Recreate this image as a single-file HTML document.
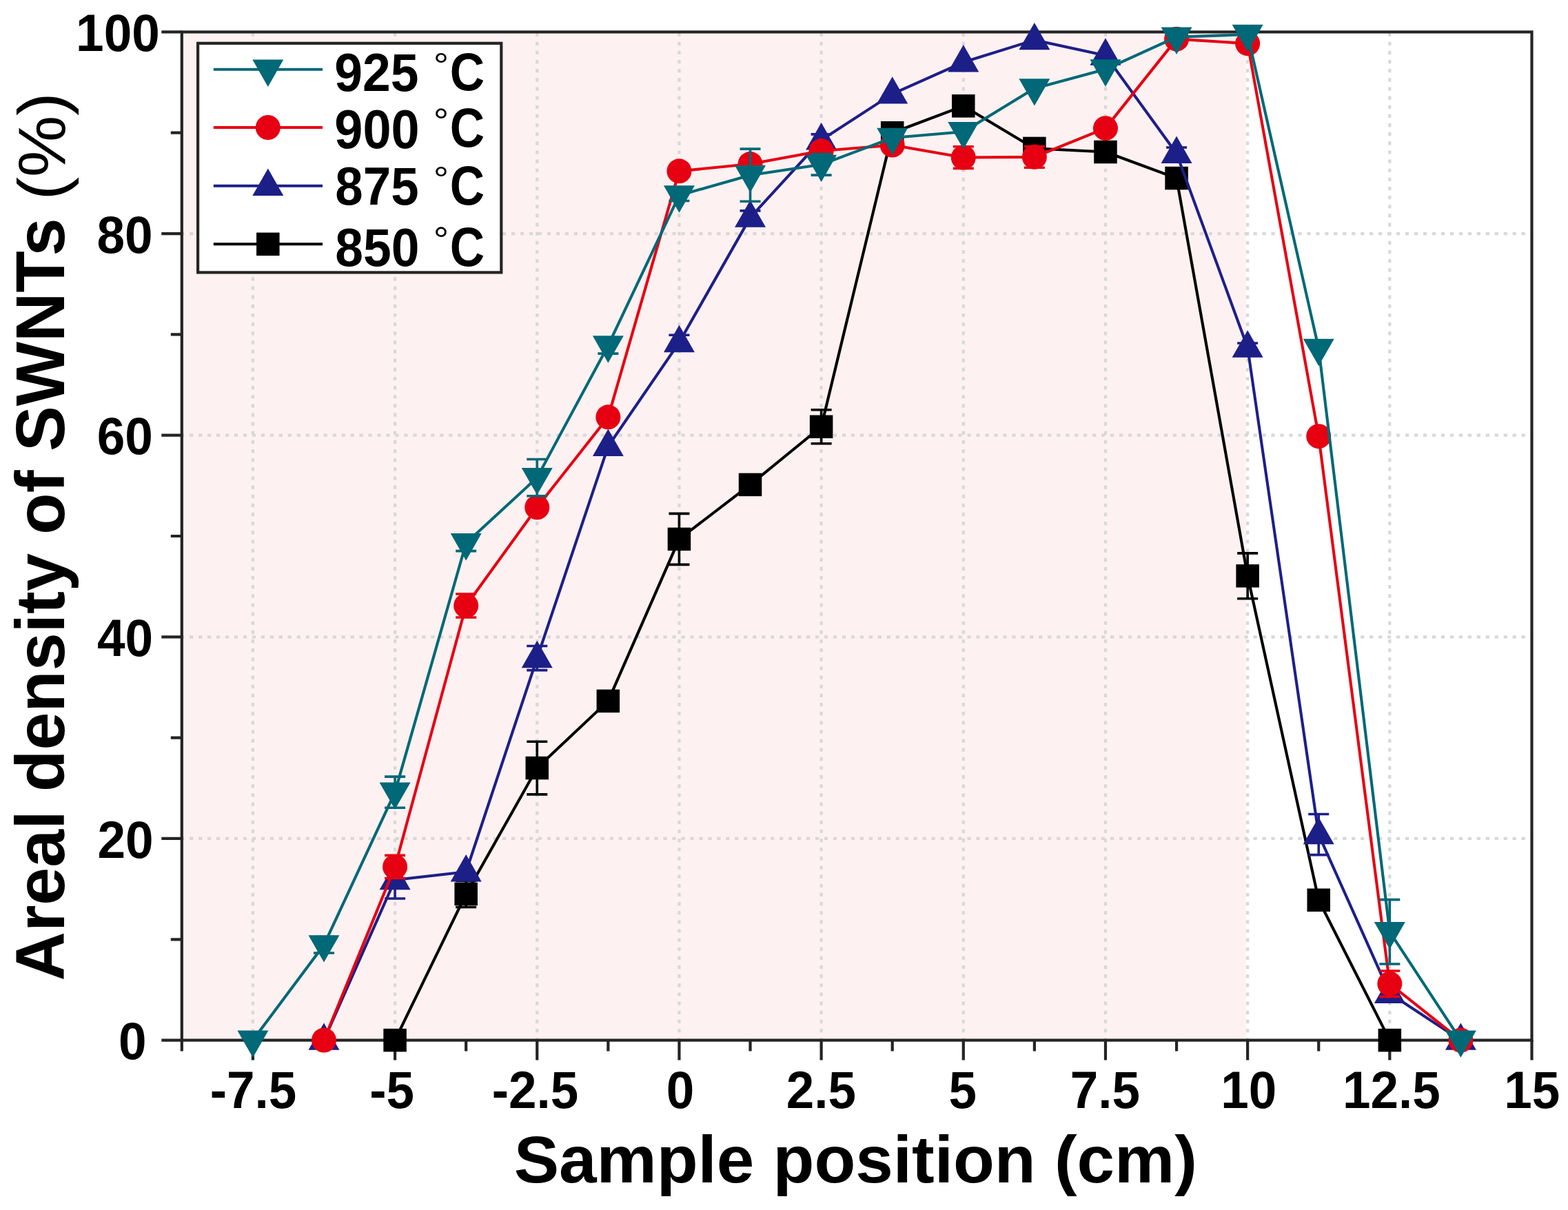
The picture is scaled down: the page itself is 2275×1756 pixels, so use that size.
<!DOCTYPE html>
<html><head><meta charset="utf-8"><title>Areal density of SWNTs vs sample position</title>
<style>
html,body{margin:0;padding:0;background:#fff;}
svg{display:block;}
text{font-family:"Liberation Sans",Arial,Helvetica,sans-serif;font-weight:bold;fill:#000;}
</style></head>
<body>
<svg width="2275" height="1756" viewBox="0 0 2275 1756">
<rect x="0" y="0" width="2275" height="1756" fill="#ffffff"/>
<rect x="263.80" y="46.40" width="1544.34" height="1463.20" fill="#fdf1f1"/>
<path d="M366.89,1508.70V46.40M573.07,1508.70V46.40M779.25,1508.70V46.40M985.43,1508.70V46.40M1191.61,1508.70V46.40M1397.78,1508.70V46.40M1603.96,1508.70V46.40M1810.14,1508.70V46.40M2016.32,1508.70V46.40" fill="none" stroke="#d8d8d8" stroke-width="4.2" stroke-dasharray="5.2 7.94" stroke-dashoffset="2.6"/>
<path d="M264.70,1216.96H2222.50M264.70,924.32H2222.50M264.70,631.68H2222.50M264.70,339.04H2222.50" fill="none" stroke="#d8d8d8" stroke-width="4.2" stroke-dasharray="5.2 7.77" stroke-dashoffset="2.6"/>
<rect x="263.80" y="46.40" width="1958.70" height="1463.20" fill="none" stroke="#242424" stroke-width="4.2"/>
<path d="M263.80,1509.60v16M366.89,1509.60v29M469.98,1509.60v16M573.07,1509.60v29M676.16,1509.60v16M779.25,1509.60v29M882.34,1509.60v16M985.43,1509.60v29M1088.52,1509.60v16M1191.61,1509.60v29M1294.69,1509.60v16M1397.78,1509.60v29M1500.87,1509.60v16M1603.96,1509.60v29M1707.05,1509.60v16M1810.14,1509.60v29M1913.23,1509.60v16M2016.32,1509.60v29M2119.41,1509.60v16M2222.50,1509.60v29M263.80,1509.60h-29.5M263.80,1363.28h-16M263.80,1216.96h-29.5M263.80,1070.64h-16M263.80,924.32h-29.5M263.80,778.00h-16M263.80,631.68h-29.5M263.80,485.36h-16M263.80,339.04h-29.5M263.80,192.72h-16M263.80,46.40h-29.5" fill="none" stroke="#242424" stroke-width="4.2"/>
<polyline points="573.07,1509.60 676.16,1297.44 779.25,1114.54 882.34,1017.38 985.43,782.39 1088.52,703.38 1191.61,619.24 1294.69,192.72 1397.78,153.80 1500.87,215.40 1603.96,220.52 1707.05,258.56 1810.14,835.80 1913.23,1306.22 2016.32,1509.60" fill="none" stroke="#000000" stroke-width="4.1" stroke-linejoin="round"/>
<path d="M676.16,1278.41V1316.46M661.16,1278.41h30.0M661.16,1316.46h30.0M779.25,1076.20V1152.87M764.25,1076.20h30.0M764.25,1152.87h30.0M985.43,745.37V819.41M970.43,745.37h30.0M970.43,819.41h30.0M1191.61,594.81V643.68M1176.61,594.81h30.0M1176.61,643.68h30.0M1810.14,802.87V868.72M1795.14,802.87h30.0M1795.14,868.72h30.0" fill="none" stroke="#000000" stroke-width="3.6"/>
<g fill="#000000"><rect x="556.32" y="1492.85" width="33.5" height="33.5"/><rect x="659.41" y="1280.69" width="33.5" height="33.5"/><rect x="762.50" y="1097.79" width="33.5" height="33.5"/><rect x="865.59" y="1000.63" width="33.5" height="33.5"/><rect x="968.68" y="765.64" width="33.5" height="33.5"/><rect x="1071.77" y="686.63" width="33.5" height="33.5"/><rect x="1174.86" y="602.49" width="33.5" height="33.5"/><rect x="1277.94" y="175.97" width="33.5" height="33.5"/><rect x="1381.03" y="137.05" width="33.5" height="33.5"/><rect x="1484.12" y="198.65" width="33.5" height="33.5"/><rect x="1587.21" y="203.77" width="33.5" height="33.5"/><rect x="1690.30" y="241.81" width="33.5" height="33.5"/><rect x="1793.39" y="819.05" width="33.5" height="33.5"/><rect x="1896.48" y="1289.47" width="33.5" height="33.5"/><rect x="1999.57" y="1492.85" width="33.5" height="33.5"/></g>
<polyline points="469.98,1509.60 573.07,1276.95 676.16,1265.25 779.25,955.05 882.34,647.78 985.43,497.07 1088.52,315.63 1191.61,203.26 1294.69,136.39 1397.78,90.30 1500.87,58.11 1603.96,80.49 1707.05,222.72 1810.14,504.53 1913.23,1211.11 2016.32,1441.71 2119.41,1509.60" fill="none" stroke="#1d1f88" stroke-width="4.1" stroke-linejoin="round"/>
<path d="M573.07,1249.88V1304.02M558.07,1249.88h30.0M558.07,1304.02h30.0M779.25,937.49V972.61M764.25,937.49h30.0M764.25,972.61h30.0M985.43,486.24V507.89M970.43,486.24h30.0M970.43,507.89h30.0M1088.52,305.83V325.43M1073.52,305.83h30.0M1073.52,325.43h30.0M1191.61,194.91V211.60M1176.61,194.91h30.0M1176.61,211.60h30.0M1707.05,213.94V231.49M1692.05,213.94h30.0M1692.05,231.49h30.0M1810.14,497.94V511.11M1795.14,497.94h30.0M1795.14,511.11h30.0M1913.23,1181.55V1240.66M1898.23,1181.55h30.0M1898.23,1240.66h30.0" fill="none" stroke="#1d1f88" stroke-width="3.6"/>
<g fill="#1d1f88"><path d="M447.48,1523.78H492.48L469.98,1484.38Z"/><path d="M550.57,1291.14H595.57L573.07,1251.74Z"/><path d="M653.66,1279.43H698.66L676.16,1240.03Z"/><path d="M756.75,969.23H801.75L779.25,929.83Z"/><path d="M859.84,661.96H904.84L882.34,622.56Z"/><path d="M962.93,511.25H1007.93L985.43,471.85Z"/><path d="M1066.02,329.81H1111.02L1088.52,290.41Z"/><path d="M1169.11,217.44H1214.11L1191.61,178.04Z"/><path d="M1272.19,150.57H1317.19L1294.69,111.17Z"/><path d="M1375.28,104.48H1420.28L1397.78,65.08Z"/><path d="M1478.37,72.29H1523.37L1500.87,32.89Z"/><path d="M1581.46,94.68H1626.46L1603.96,55.28Z"/><path d="M1684.55,236.90H1729.55L1707.05,197.50Z"/><path d="M1787.64,518.71H1832.64L1810.14,479.31Z"/><path d="M1890.73,1225.29H1935.73L1913.23,1185.89Z"/><path d="M1993.82,1455.89H2038.82L2016.32,1416.49Z"/><path d="M2096.91,1523.78H2141.91L2119.41,1484.38Z"/></g>
<polyline points="469.98,1509.60 573.07,1257.93 676.16,878.96 779.25,736.30 882.34,605.34 985.43,248.32 1088.52,238.08 1191.61,219.06 1294.69,210.57 1397.78,228.57 1500.87,227.84 1603.96,186.14 1707.05,56.64 1810.14,63.23 1913.23,633.14 2016.32,1427.66 2119.41,1509.60" fill="none" stroke="#e60012" stroke-width="4.1" stroke-linejoin="round"/>
<path d="M573.07,1241.40V1274.46M558.07,1241.40h30.0M558.07,1274.46h30.0M676.16,861.99V895.93M661.16,861.99h30.0M661.16,895.93h30.0M1397.78,212.77V244.37M1382.78,212.77h30.0M1382.78,244.37h30.0M1500.87,212.47V243.20M1485.87,212.47h30.0M1485.87,243.20h30.0M2016.32,1408.93V1446.39M2001.32,1408.93h30.0M2001.32,1446.39h30.0" fill="none" stroke="#e60012" stroke-width="3.6"/>
<g fill="#e60012"><circle cx="469.98" cy="1509.60" r="18.0"/><circle cx="573.07" cy="1257.93" r="18.0"/><circle cx="676.16" cy="878.96" r="18.0"/><circle cx="779.25" cy="736.30" r="18.0"/><circle cx="882.34" cy="605.34" r="18.0"/><circle cx="985.43" cy="248.32" r="18.0"/><circle cx="1088.52" cy="238.08" r="18.0"/><circle cx="1191.61" cy="219.06" r="18.0"/><circle cx="1294.69" cy="210.57" r="18.0"/><circle cx="1397.78" cy="228.57" r="18.0"/><circle cx="1500.87" cy="227.84" r="18.0"/><circle cx="1603.96" cy="186.14" r="18.0"/><circle cx="1707.05" cy="56.64" r="18.0"/><circle cx="1810.14" cy="63.23" r="18.0"/><circle cx="1913.23" cy="633.14" r="18.0"/><circle cx="2016.32" cy="1427.66" r="18.0"/><circle cx="2119.41" cy="1509.60" r="18.0"/></g>
<polyline points="366.89,1509.60 469.98,1371.33 573.07,1149.65 676.16,788.24 779.25,693.13 882.34,501.46 985.43,283.44 1088.52,254.17 1191.61,238.81 1294.69,200.04 1397.78,191.26 1500.87,128.34 1603.96,100.54 1707.05,53.72 1810.14,50.06 1913.23,505.84 2016.32,1352.31 2119.41,1509.60" fill="none" stroke="#006877" stroke-width="4.1" stroke-linejoin="round"/>
<path d="M469.98,1359.62V1383.03M454.98,1359.62h30.0M454.98,1383.03h30.0M573.07,1127.12V1172.19M558.07,1127.12h30.0M558.07,1172.19h30.0M676.16,776.83V799.66M661.16,776.83h30.0M661.16,799.66h30.0M779.25,666.50V719.76M764.25,666.50h30.0M764.25,719.76h30.0M882.34,489.75V513.16M867.34,489.75h30.0M867.34,513.16h30.0M985.43,275.39V291.49M970.43,275.39h30.0M970.43,291.49h30.0M1088.52,216.13V292.22M1073.52,216.13h30.0M1073.52,292.22h30.0M1191.61,223.45V254.17M1176.61,223.45h30.0M1176.61,254.17h30.0M2016.32,1305.63V1398.98M2001.32,1305.63h30.0M2001.32,1398.98h30.0" fill="none" stroke="#006877" stroke-width="3.6"/>
<g fill="#006877"><path d="M344.39,1495.42H389.39L366.89,1534.82Z"/><path d="M447.48,1357.14H492.48L469.98,1396.54Z"/><path d="M550.57,1135.47H595.57L573.07,1174.87Z"/><path d="M653.66,774.06H698.66L676.16,813.46Z"/><path d="M756.75,678.95H801.75L779.25,718.35Z"/><path d="M859.84,487.27H904.84L882.34,526.67Z"/><path d="M962.93,269.25H1007.93L985.43,308.65Z"/><path d="M1066.02,239.99H1111.02L1088.52,279.39Z"/><path d="M1169.11,224.63H1214.11L1191.61,264.03Z"/><path d="M1272.19,185.85H1317.19L1294.69,225.25Z"/><path d="M1375.28,177.07H1420.28L1397.78,216.47Z"/><path d="M1478.37,114.16H1523.37L1500.87,153.56Z"/><path d="M1581.46,86.35H1626.46L1603.96,125.75Z"/><path d="M1684.55,39.53H1729.55L1707.05,78.93Z"/><path d="M1787.64,35.87H1832.64L1810.14,75.27Z"/><path d="M1890.73,491.66H1935.73L1913.23,531.06Z"/><path d="M1993.82,1338.12H2038.82L2016.32,1377.52Z"/><path d="M2096.91,1495.42H2141.91L2119.41,1534.82Z"/></g>
<rect x="287.1" y="62.8" width="440.2" height="332.6" fill="#ffffff" stroke="#242424" stroke-width="4.2"/>
<path d="M309.8,100.8H468" stroke="#006877" stroke-width="4.1"/>
<g fill="#006877"><path d="M366.30,86.62H411.30L388.80,126.02Z"/></g>
<path d="M309.8,185.0H468" stroke="#e60012" stroke-width="4.1"/>
<g fill="#e60012"><circle cx="388.80" cy="185.00" r="18.0"/></g>
<path d="M309.8,269.8H468" stroke="#1d1f88" stroke-width="4.1"/>
<g fill="#1d1f88"><path d="M366.30,283.98H411.30L388.80,244.58Z"/></g>
<path d="M309.8,354.3H468" stroke="#000000" stroke-width="4.1"/>
<g fill="#000000"><rect x="372.05" y="337.55" width="33.5" height="33.5"/></g>
<g transform="translate(209.50,1510.70) scale(1.0134,1.0608) translate(-207.00,-1510.50)"><text id="yl0" x="210" y="1535.60" font-size="72" text-anchor="end">0</text></g>
<g transform="translate(219.60,1217.75) scale(1.0134,1.0608) translate(-207.00,-1217.50)"><text id="yl20" x="210" y="1242.96" font-size="72" text-anchor="end">20</text></g>
<g transform="translate(219.00,924.90) scale(1.0134,1.0608) translate(-207.00,-924.50)"><text id="yl40" x="210" y="950.32" font-size="72" text-anchor="end">40</text></g>
<g transform="translate(218.80,632.10) scale(1.0134,1.0608) translate(-207.00,-632.50)"><text id="yl60" x="210" y="657.68" font-size="72" text-anchor="end">60</text></g>
<g transform="translate(218.60,339.55) scale(1.0134,1.0608) translate(-207.00,-339.50)"><text id="yl80" x="210" y="365.04" font-size="72" text-anchor="end">80</text></g>
<g transform="translate(228.80,46.85) scale(1.0134,1.0608) translate(-207.00,-46.50)"><text id="yl100" x="210" y="72.40" font-size="72" text-anchor="end">100</text></g>
<g transform="translate(428.30,1581.30) scale(1.0113,1.0516) translate(-427.00,-1581.00)"><text id="xl-7.5" x="366.89" y="1606" font-size="72" text-anchor="middle">-7.5</text></g>
<g transform="translate(599.00,1581.30) scale(1.0113,1.0516) translate(-603.00,-1581.00)"><text id="xl-5" x="573.07" y="1606" font-size="72" text-anchor="middle">-5</text></g>
<g transform="translate(837.00,1581.30) scale(1.0113,1.0516) translate(-839.00,-1580.50)"><text id="xl-2.5" x="779.25" y="1606" font-size="72" text-anchor="middle">-2.5</text></g>
<g transform="translate(1004.70,1581.30) scale(1.0113,1.0516) translate(-1003.00,-1580.50)"><text id="xl0" x="985.43" y="1606" font-size="72" text-anchor="middle">0</text></g>
<g transform="translate(1240.40,1581.30) scale(1.0113,1.0516) translate(-1240.00,-1580.50)"><text id="xl2.5" x="1191.61" y="1606" font-size="72" text-anchor="middle">2.5</text></g>
<g transform="translate(1415.20,1581.30) scale(1.0113,1.0516) translate(-1416.00,-1581.00)"><text id="xl5" x="1397.78" y="1606" font-size="72" text-anchor="middle">5</text></g>
<g transform="translate(1651.90,1581.30) scale(1.0113,1.0516) translate(-1652.00,-1581.00)"><text id="xl7.5" x="1603.96" y="1606" font-size="72" text-anchor="middle">7.5</text></g>
<g transform="translate(1849.10,1581.30) scale(1.0113,1.0516) translate(-1847.00,-1580.50)"><text id="xl10" x="1810.14" y="1606" font-size="72" text-anchor="middle">10</text></g>
<g transform="translate(2087.30,1581.30) scale(1.0113,1.0516) translate(-2084.00,-1580.50)"><text id="xl12.5" x="2016.32" y="1606" font-size="72" text-anchor="middle">12.5</text></g>
<g transform="translate(2261.80,1581.30) scale(1.0113,1.0516) translate(-2261.00,-1581.00)"><text id="xl15" x="2222.50" y="1606" font-size="72" text-anchor="middle">15</text></g>
<g transform="translate(749.20,1644.80) scale(0.9803,0.9734) translate(-738.00,-1644.00)"><text id="xt" x="1240" y="1717" font-size="100" text-anchor="middle">Sample position (cm)</text></g>
<g transform="translate(67.00,321.00) scale(1.0000,0.9878) translate(-67.00,-304.00)"><text transform="translate(93.4,1420) rotate(-90)" font-size="100">Areal density of SWNTs <tspan x="1146.85" y="0.17" font-size="97.23" textLength="158.21" lengthAdjust="spacingAndGlyphs" style="font-weight:normal">(%)</tspan></text></g>
<text transform="translate(488.30,79.20) scale(0.9767,1.0288) translate(-489.00,-81.00)" x="486" y="132.6" font-size="75">925 <tspan x="632.81" y="112.99" font-size="47.90" textLength="23.03" lengthAdjust="spacingAndGlyphs" style="font-weight:normal">°</tspan><tspan x="657.34" y="131.43" font-size="75.42" textLength="51.50" lengthAdjust="spacingAndGlyphs">C</tspan></text>
<text transform="translate(488.30,159.50) scale(0.9849,1.0538) translate(-489.00,-165.00)" x="486" y="217.4" font-size="75">900 <tspan x="631.61" y="197.91" font-size="48.46" textLength="22.84" lengthAdjust="spacingAndGlyphs" style="font-weight:normal">°</tspan><tspan x="655.94" y="215.79" font-size="75.00" textLength="51.07" lengthAdjust="spacingAndGlyphs">C</tspan></text>
<text transform="translate(488.30,243.50) scale(0.9686,1.0365) translate(-488.00,-250.00)" x="486" y="302.0" font-size="75">875 <tspan x="633.00" y="282.28" font-size="48.93" textLength="23.22" lengthAdjust="spacingAndGlyphs" style="font-weight:normal">°</tspan><tspan x="657.75" y="301.90" font-size="77.23" textLength="51.92" lengthAdjust="spacingAndGlyphs">C</tspan></text>
<text transform="translate(488.30,331.70) scale(0.9767,1.0442) translate(-488.00,-334.00)" x="486" y="386.4" font-size="75">850 <tspan x="631.81" y="366.54" font-size="48.91" textLength="23.03" lengthAdjust="spacingAndGlyphs" style="font-weight:normal">°</tspan><tspan x="656.34" y="386.03" font-size="76.80" textLength="51.50" lengthAdjust="spacingAndGlyphs">C</tspan></text>
</svg>
</body></html>
